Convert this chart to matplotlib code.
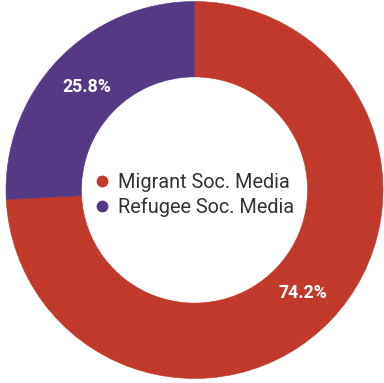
import matplotlib
matplotlib.use("Agg")
import matplotlib.pyplot as plt
from matplotlib.lines import Line2D

categories = ["Migrant Soc. Media", "Refugee Soc. Media"]
values = [74.2, 25.8]
colors = ["#C0392B", "#563984"]

W, H = 384, 383
fig = plt.figure(figsize=(W / 100, H / 100), dpi=100)
ax = fig.add_axes([0, 0, 1, 1])

cx, cy, R = 194.5, 190.0, 188.5
wedges, texts, autotexts = ax.pie(
    values, colors=colors, startangle=90, counterclock=False,
    radius=1.0, wedgeprops=dict(width=0.4, linewidth=0.4),
    autopct=lambda p: f"{p:.1f}%", pctdistance=0.79,
    textprops=dict(color="white", fontsize=12.8, fontweight="bold",
                   family=["Roboto", "DejaVu Sans"]),
)
for w, c in zip(wedges, colors):
    w.set_edgecolor(c)

ax.set_xlim(-cx / R, (W - cx) / R)
ax.set_ylim(-(H - cy) / R, cy / R)
ax.set_aspect("auto")
ax.axis("off")

handles = [Line2D([], [], marker="o", linestyle="none", markersize=7.5,
                  markerfacecolor=c, markeredgecolor=c) for c in colors]
leg = ax.legend(handles, categories, loc="center",
                bbox_to_anchor=(0.503, 0.491), frameon=False,
                prop=dict(family="Roboto", size=14.3), handletextpad=0.35,
                labelspacing=0.3, handlelength=0.9, borderpad=0)
for t in leg.get_texts():
    t.set_color("#333333")

fig.savefig("out.png", dpi=100)
